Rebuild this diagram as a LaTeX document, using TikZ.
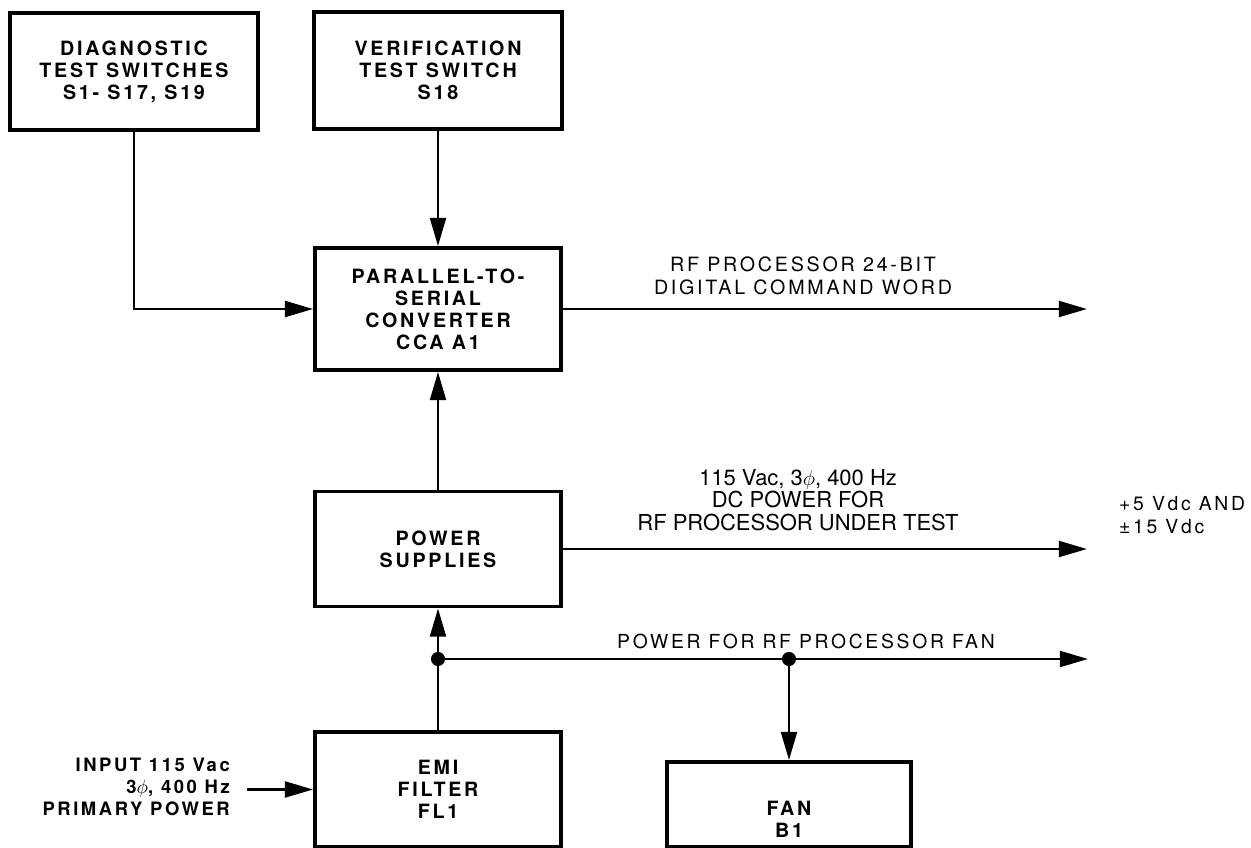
\documentclass[tikz,border=0pt]{standalone}
\usepackage{fontspec}
\setmainfont{TeX Gyre Heros}
\newfontfamily\boxfont[LetterSpace=14]{TeX Gyre Heros}
\newfontfamily\lblfont[LetterSpace=14]{TeX Gyre Heros}
\usetikzlibrary{arrows.meta,positioning}
\tikzset{
  block/.style={draw, line width=2.2pt, minimum width=4.92cm, align=center,
    font=\boxfont\bfseries\fontsize{11.2}{12.5}\selectfont},
  blocktext/.style={align=center, font=\boxfont\bfseries\fontsize{11.2}{12.5}\selectfont},
  wire/.style={line width=1.5pt},
  arr/.style={wire, -{Triangle[length=16pt,width=9pt]}},
  lbl/.style={align=center, font=\lblfont\fontsize{11}{12.8}\selectfont},
  jdot/.style={circle, fill, inner sep=0pt, minimum size=8pt}
}

\begin{document}
\begin{tikzpicture}[x=0.02cm, y=-0.02cm]
    \useasboundingbox (0,0) rectangle (1251,848);

    % blocks
    \node[block, minimum width=4.96cm, minimum height=2.34cm] (diag) at (134,71.5) {DIAGNOSTIC\\TEST SWITCHES\\S1- S17, S19};
    \node[block, minimum width=4.96cm, minimum height=2.34cm] (verif) at (438,70.5) {VERIFICATION\\TEST SWITCH\\S18};
    \node[block, minimum height=2.44cm] (conv) at (438,309) {PARALLEL-TO-\\SERIAL\\CONVERTER\\CCA A1};
    \node[block, minimum height=2.3cm] (psu) at (438,549) {POWER\\SUPPLIES};
    \node[block, minimum height=2.3cm] (emi) at (438,789.5) {EMI\\FILTER\\FL1};
    \node[block, minimum width=4.88cm, minimum height=1.7cm] (fan) at (789,804.5) {};
    \node[blocktext] (fantxt) at (789,819) {FAN\\B1};

    % switches into converter
    \draw[arr] (diag.south) |- (conv.west);
    \draw[arr] (verif) -- (conv);

    % command word out
    \coordinate (rfout) at (1087,309);
    \draw[arr] (conv.east) -- (rfout);
    \node[lbl, font=\lblfont\fontsize{11.2}{12.8}\selectfont] (rflbl) at (803,276) {RF PROCESSOR 24-BIT\\DIGITAL COMMAND WORD};

    % power
    \draw[arr] (psu) -- (conv);
    \coordinate (dcout) at (1087,549);
    \draw[arr] (psu.east) -- (dcout);
    \node[align=center, font=\fontsize{12.5}{12.8}\selectfont] (dclbl) at (798,500) {115 Vac, 3$\phi$, 400 Hz\\DC POWER FOR\\RF PROCESSOR UNDER TEST};
    \node[anchor=west, align=left, font=\lblfont\fontsize{11}{13.5}\selectfont] (dcvlbl) at (1113,515) {+5 Vdc AND\\±15 Vdc};

    % fan feed
    \coordinate (j1) at (438,659);
    \coordinate (j2) at (fan.north |- j1);
    \coordinate (fanout) at (1088,659);
    \draw[arr] (emi.north) -- (psu.south);
    \draw[arr] (j1) -- (fanout);
    \draw[arr] (j2) -- (fan.north);
    \node[jdot] (j1dot) at (j1) {};
    \node[jdot] (j2dot) at (j2) {};
    \node[lbl] (fanlbl) at (806,641) {POWER FOR RF PROCESSOR FAN};

    % primary input
    \coordinate (mains) at (247,789.5);
    \draw[arr] (mains) -- (emi.west);
    \node[anchor=east, align=right, font=\boxfont\bfseries\fontsize{10.5}{12.5}\selectfont] (inlbl) at (236,787) {INPUT 115 Vac\\3$\phi$, 400 Hz\\PRIMARY POWER};
\end{tikzpicture}
\end{document}
